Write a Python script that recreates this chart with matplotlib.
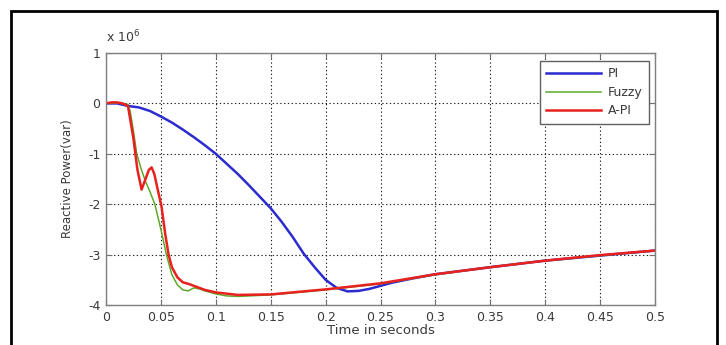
import matplotlib
matplotlib.use("Agg")
import matplotlib.pyplot as plt
from matplotlib.patches import Rectangle

# Data (reactive power in units of 1e6 var)
t_pi = [0.0, 0.01, 0.02, 0.03, 0.04, 0.05, 0.06, 0.07, 0.08, 0.09, 0.10, 0.11, 0.12,
        0.13, 0.14, 0.15, 0.16, 0.17, 0.18, 0.19, 0.20, 0.21, 0.22, 0.23, 0.24, 0.25,
        0.26, 0.28, 0.30, 0.35, 0.40, 0.45, 0.50]
q_pi = [0.0, 0.0, -0.05, -0.08, -0.15, -0.26, -0.38, -0.52, -0.67, -0.83, -1.0, -1.2, -1.4,
        -1.62, -1.85, -2.08, -2.35, -2.65, -2.98, -3.25, -3.5, -3.66, -3.73, -3.72, -3.68, -3.62,
        -3.56, -3.47, -3.39, -3.25, -3.12, -3.02, -2.92]

t_fz = [0.0, 0.01, 0.02, 0.022, 0.025, 0.028, 0.032, 0.036, 0.040, 0.0445, 0.05, 0.055,
        0.06, 0.065, 0.07, 0.075, 0.08, 0.085, 0.09, 0.10, 0.11, 0.12, 0.15, 0.20, 0.25,
        0.30, 0.35, 0.40, 0.45, 0.50]
q_fz = [0.0, 0.01, -0.02, -0.15, -0.55, -1.0, -1.3, -1.55, -1.75, -2.0, -2.5, -3.0,
        -3.4, -3.6, -3.7, -3.72, -3.66, -3.68, -3.72, -3.78, -3.82, -3.83, -3.8, -3.7, -3.58,
        -3.4, -3.25, -3.12, -3.02, -2.92]

t_api = [0.0, 0.005, 0.01, 0.015, 0.02, 0.025, 0.0285, 0.0324, 0.036, 0.039, 0.0415, 0.044,
         0.047, 0.0506, 0.054, 0.057, 0.06, 0.065, 0.07, 0.075, 0.08, 0.09, 0.10, 0.12,
         0.15, 0.20, 0.25, 0.30, 0.35, 0.40, 0.45, 0.50]
q_api = [0.0, 0.02, 0.02, 0.0, -0.05, -0.7, -1.3, -1.71, -1.5, -1.32, -1.27, -1.4,
         -1.7, -2.05, -2.6, -3.0, -3.25, -3.45, -3.55, -3.58, -3.62, -3.7, -3.75, -3.8,
         -3.79, -3.69, -3.57, -3.39, -3.25, -3.12, -3.01, -2.92]

labels = ["PI", "Fuzzy", "A-PI"]
xticks = [0, 0.05, 0.1, 0.15, 0.2, 0.25, 0.3, 0.35, 0.4, 0.45, 0.5]
xtick_labels = ["0", "0.05", "0.1", "0.15", "0.2", "0.25", "0.3", "0.35", "0.4", "0.45", "0.5"]
yticks = [1, 0, -1, -2, -3, -4]

plt.rcParams['font.family'] = ['DejaVu Sans']
txtc = '#3a3a3a'
fs = 9

fig = plt.figure(figsize=(7.26, 3.45), dpi=100)
ax = fig.add_axes([106/726, 1-305/345, (655-106)/726, (305-53)/345])

ax.plot(t_pi, q_pi, color='#2b2bd0', lw=1.8, label=labels[0])
ax.plot(t_fz, q_fz, color='#5ea82a', lw=1.1, label=labels[1])
ax.plot(t_api, q_api, color='#e8201e', lw=1.8, label=labels[2])

ax.set_xlim(0, 0.5)
ax.set_ylim(-4, 1)
ax.set_xticks(xticks)
ax.set_xticklabels(xtick_labels)
ax.set_yticks(yticks)
ax.set_yticklabels([str(v) for v in yticks])
ax.tick_params(direction='in', length=4, width=0.8, colors='#707070',
               labelcolor=txtc, labelsize=fs, top=True, right=True)
ax.tick_params(axis='x', pad=4)
ax.tick_params(axis='y', pad=4)
ax.grid(True, color='#202020', linestyle=(0, (1.2, 2.2)), lw=0.8)
for s in ax.spines.values():
    s.set_color('#808080')
    s.set_linewidth(1.0)

ax.set_xlabel("Time in seconds", fontsize=9.5, color=txtc, labelpad=0)
ax.set_ylabel("Reactive Power(var)", fontsize=8.5, color=txtc, labelpad=10)
ax.text(0.0, 1.03, r"x 10$^6$", transform=ax.transAxes, fontsize=fs, color=txtc,
        ha='left', va='bottom')

leg = ax.legend(loc='upper right', bbox_to_anchor=(1 - 6/549, 1 - 8/252), borderaxespad=0,
                fontsize=fs, frameon=True, fancybox=False, framealpha=1,
                edgecolor='#606060', handlelength=4.4, handletextpad=0.55,
                labelspacing=0.45, borderpad=0.5)
for t in leg.get_texts():
    t.set_color(txtc)

# figure border
fig.patches.append(Rectangle((11/726, -0.05), (717-11)/726, 1.05 - 11/345,
                             transform=fig.transFigure, fill=False, edgecolor='black',
                             lw=2.0, zorder=10))

fig.savefig("out.png", dpi=100)
